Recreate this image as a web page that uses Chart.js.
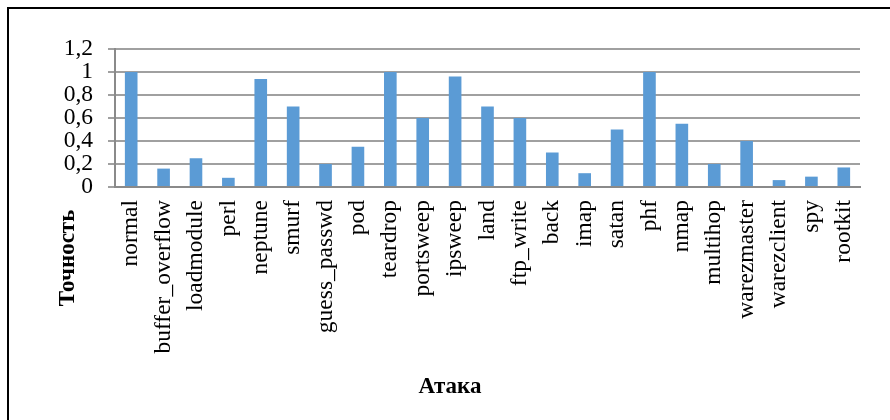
<!DOCTYPE html>
<html>
<head>
<meta charset="utf-8">
<script src="https://cdn.jsdelivr.net/npm/chart.js@4/dist/chart.umd.min.js"></script>
<style>
  html, body { margin: 0; padding: 0; background: #fff; }
  #wrap { position: relative; width: 890px; height: 420px; overflow: hidden; }
  #frame { position: absolute; left: 7px; top: 7px; width: 900px; height: 430px;
           border-left: 2px solid #000; border-top: 2px solid #000; box-sizing: border-box; }
  canvas { position: absolute; left: 0; top: 0; }
  .ttl { position: absolute; font-family: "Liberation Serif", "Times New Roman", serif;
         font-weight: bold; font-size: 23px; color: #000; white-space: nowrap; }
  #xt { left: 450px; top: 386px; transform: translate(-50%, -50%); }
  #yt { left: 67px; top: 258px; transform: translate(-50%, -50%) rotate(-90deg); }
</style>
</head>
<body>
<div id="wrap">
  <canvas id="c" width="890" height="420"></canvas>
  <div id="frame"></div>
  <div class="ttl" id="yt">Точность</div>
  <div class="ttl" id="xt">Атака</div>
</div>
<script>
// Attack types on the category axis
const attacks = ['normal', 'buffer_overflow', 'loadmodule', 'perl', 'neptune', 'smurf',
  'guess_passwd', 'pod', 'teardrop', 'portsweep', 'ipsweep', 'land', 'ftp_write', 'back',
  'imap', 'satan', 'phf', 'nmap', 'multihop', 'warezmaster', 'warezclient', 'spy', 'rootkit'];
// Detection accuracy per attack type
const accuracy = [1.0, 0.16, 0.25, 0.08, 0.94, 0.70, 0.20, 0.35, 1.0, 0.60, 0.96, 0.70, 0.60,
  0.30, 0.12, 0.50, 1.0, 0.55, 0.20, 0.40, 0.06, 0.09, 0.17];
// Value-axis ticks and their decimal-comma labels
const yTickValues = [0, 0.2, 0.4, 0.6, 0.8, 1, 1.2];
const yTickLabels = ['0', '0,2', '0,4', '0,6', '0,8', '1', '1,2'];

const serif = '"Liberation Serif", "Times New Roman", serif';

new Chart(document.getElementById('c'), {
  type: 'bar',
  data: {
    labels: attacks,
    datasets: [{
      data: accuracy,
      backgroundColor: '#5b9bd5',
      borderWidth: 0,
      categoryPercentage: 1,
      barPercentage: 0.39
    }]
  },
  options: {
    responsive: false,
    animation: false,
    layout: { padding: { left: 60, right: 30, top: 49, bottom: 5 } },
    plugins: { legend: { display: false }, tooltip: { enabled: false } },
    scales: {
      x: {
        grid: { display: false, drawTicks: false },
        border: { display: true, color: '#8a8a8a', width: 2 },
        ticks: {
          autoSkip: false, minRotation: 90, maxRotation: 90, padding: 13,
          color: '#000', font: { family: serif, size: 23.5 }
        },
        afterFit: (s) => { s.height = 228; }
      },
      y: {
        min: 0, max: 1.2,
        afterBuildTicks: (s) => { s.ticks = yTickValues.map(v => ({ value: v })); },
        grid: { color: '#a0a0a0', lineWidth: 2, tickLength: 7, drawTicks: true },
        border: { display: true, color: '#8a8a8a', width: 2 },
        ticks: {
          autoSkip: false, padding: 15, color: '#000', font: { family: serif, size: 23.5 },
          callback: (v) => { const i = yTickValues.findIndex(t => Math.abs(t - v) < 1e-9); return i >= 0 ? yTickLabels[i] : ''; }
        },
        afterFit: (s) => { s.width = 55; }
      }
    }
  }
});
</script>
</body>
</html>
